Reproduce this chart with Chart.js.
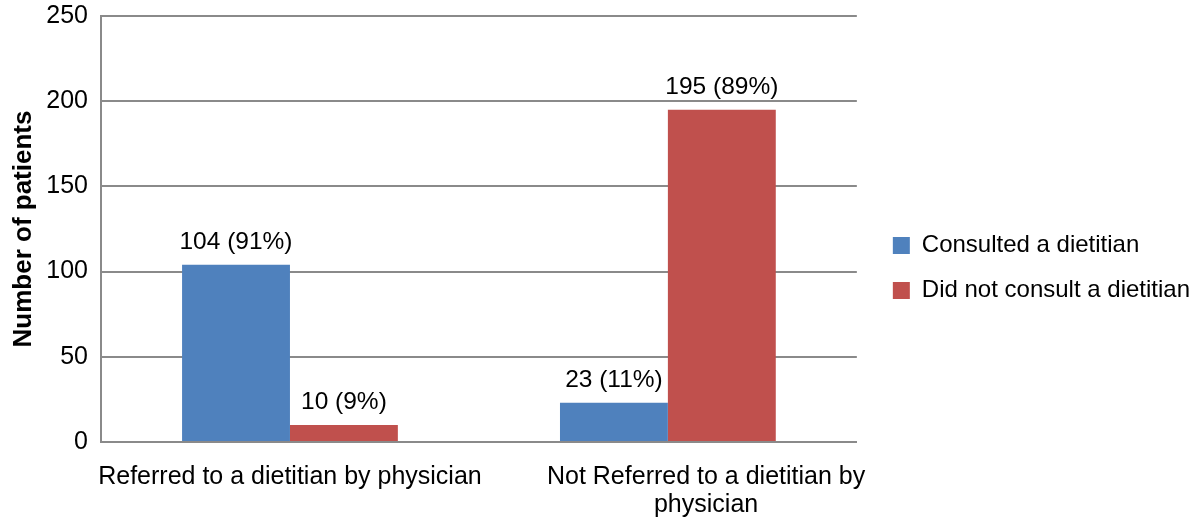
<!DOCTYPE html>
<html>
<head>
<meta charset="utf-8">
<script src="https://cdn.jsdelivr.net/npm/chart.js@4/dist/chart.umd.min.js"></script>
<style>
  html, body { margin: 0; padding: 0; background: #fff; }
  #wrap { width: 1200px; height: 520px; }
</style>
</head>
<body>
<div id="wrap"><canvas id="chart"></canvas></div>
<script>
// categories and values
var categories = [
  "Referred to a dietitian by physician",
  ["Not Referred to a dietitian by", "physician"]
];
var consulted = [104, 23];
var notConsulted = [10, 195];
var consultedPct = ["91%", "11%"];
var notConsultedPct = ["9%", "89%"];

// draws "n (pct)" above each bar
var barLabels = {
  id: 'barLabels',
  afterDatasetsDraw: function(chart) {
    var ctx = chart.ctx;
    var pcts = [consultedPct, notConsultedPct];
    ctx.save();
    ctx.font = '24.5px "Liberation Sans", Arial, sans-serif';
    ctx.fillStyle = '#000';
    ctx.textAlign = 'center';
    ctx.textBaseline = 'alphabetic';
    chart.data.datasets.forEach(function(ds, i) {
      chart.getDatasetMeta(i).data.forEach(function(bar, j) {
        ctx.fillText(ds.data[j] + ' (' + pcts[i][j] + ')', bar.x, bar.y - 16);
      });
    });
    ctx.restore();
  }
};

Chart.defaults.font.family = '"Liberation Sans", Arial, sans-serif';
Chart.defaults.color = '#000';

new Chart(document.getElementById('chart'), {
  type: 'bar',
  data: {
    labels: categories,
    datasets: [
      {
        label: 'Consulted a dietitian',
        data: consulted,
        backgroundColor: '#4f81bd'
      },
      {
        label: 'Did not consult a dietitian',
        data: notConsulted,
        backgroundColor: '#c0504d'
      }
    ]
  },
  options: {
    responsive: true,
    maintainAspectRatio: false,
    animation: false,
    datasets: {
      bar: { categoryPercentage: 0.571, barPercentage: 1.0 }
    },
    layout: { padding: { top: 16, right: 0, bottom: 0, left: 0 } },
    plugins: {
      legend: {
        position: 'right',
        align: 'center',
        maxWidth: 400,
        labels: {
          font: { size: 24 },
          boxWidth: 17,
          boxHeight: 17,
          padding: 21
        }
      },
      tooltip: { enabled: false }
    },
    scales: {
      x: {
        grid: { display: false, drawTicks: false },
        border: { color: '#8a8a8a', width: 2 },
        ticks: {
          font: { size: 25, lineHeight: 1.12 },
          padding: 21,
          maxRotation: 0,
          autoSkip: false,
          // the wrapped second label sits a little right of its group in the original
          callback: function(value, index) {
            var lbl = categories[index];
            if (Array.isArray(lbl)) {
              return lbl.map(function(s) { return '           ' + s; });
            }
            return lbl;
          }
        },
        afterFit: function(scale) { scale.height = 78; }
      },
      y: {
        min: 0,
        max: 250,
        ticks: { stepSize: 50, font: { size: 25 }, padding: 13 },
        grid: { color: '#8a8a8a', lineWidth: 2, drawTicks: false },
        border: { color: '#8a8a8a', width: 2 },
        title: {
          display: true,
          text: 'Number of patients',
          font: { size: 26, weight: 'bold' },
          padding: { top: 8, bottom: 0 }
        },
        afterFit: function(scale) {
          scale.width = 101;
          scale.paddingTop = 0;
          scale.paddingBottom = 0;
        }
      },
      // empty axis that only keeps a gap between the plot and the legend
      gap: {
        position: 'right',
        grid: { display: false, drawTicks: false },
        border: { display: false },
        ticks: { display: false },
        afterFit: function(scale) { scale.width = 15; }
      }
    }
  },
  plugins: [barLabels]
});
</script>
</body>
</html>
